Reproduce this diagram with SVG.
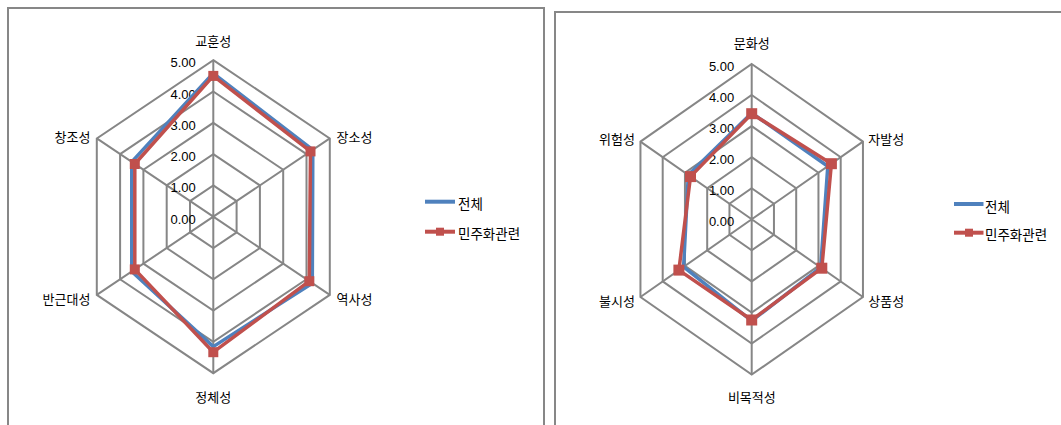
<svg xmlns="http://www.w3.org/2000/svg" width="1061" height="425" viewBox="0 0 1061 425">
<style>
.frame{fill:none;stroke:#878787;stroke-width:2}
.grid{fill:none;stroke:#868686;stroke-width:2;stroke-linejoin:miter}
.blue{fill:none;stroke:#4F81BD;stroke-width:3.5;stroke-linejoin:round}
.red{fill:none;stroke:#C0504D;stroke-width:3.5;stroke-linejoin:round}
.num{font-family:"Liberation Sans","Noto Sans CJK KR",sans-serif;font-size:13px;fill:#000;text-anchor:end}
.lbl{font-family:"Noto Sans CJK KR","Noto Sans",sans-serif;font-size:13px;fill:#000}
.leg{font-family:"Noto Sans CJK KR","Noto Sans",sans-serif;font-size:13.5px;fill:#000}
.mk{fill:#C0504D}
</style>
<defs>
<rect id="mL" x="-5" y="-5" width="10" height="10" class="mk"/>
<rect id="mR" x="-5.5" y="-5.5" width="11" height="11" class="mk"/>
</defs>
<rect x="0" y="0" width="1061" height="425" fill="#fff"/>

<g id="frames">
<rect class="frame" x="8" y="8" width="536" height="440"/>
<path class="frame" d="M555,440 V12 H1063"/>
</g>

<!-- LEFT CHART -->
<g id="left-grid">
<polygon class="grid" points="213.3,185.4 236.6,201.05 236.6,232.35 213.3,248 190,232.35 190,201.05"/>
<polygon class="grid" points="213.3,154.1 259.9,185.4 259.9,248 213.3,279.3 166.7,248 166.7,185.4"/>
<polygon class="grid" points="213.3,122.8 283.2,169.75 283.2,263.65 213.3,310.6 143.4,263.65 143.4,169.75"/>
<polygon class="grid" points="213.3,91.5 306.5,154.1 306.5,279.3 213.3,341.9 120.1,279.3 120.1,154.1"/>
<polygon class="grid" points="213.3,60.2 329.8,138.45 329.8,294.95 213.3,373.2 96.8,294.95 96.8,138.45"/>
<path class="grid" d="M213.3,216.7 V60.2 M213.3,216.7 V373.2 M213.3,216.7 L329.8,138.45 M213.3,216.7 L329.8,294.95 M213.3,216.7 L96.8,294.95 M213.3,216.7 L96.8,138.45"/>
</g>
<g id="left-scale">
<text class="num" x="195.8" y="67.2">5.00</text>
<text class="num" x="195.8" y="98.5">4.00</text>
<text class="num" x="195.8" y="129.8">3.00</text>
<text class="num" x="195.8" y="161.1">2.00</text>
<text class="num" x="195.8" y="192.4">1.00</text>
<text class="num" x="195.8" y="223.7">0.00</text>
</g>
<g id="left-labels">
<text class="lbl" x="213.3" y="46" text-anchor="middle">교훈성</text>
<text class="lbl" x="336.5" y="142">장소성</text>
<text class="lbl" x="336.5" y="304">역사성</text>
<text class="lbl" x="213.3" y="401.7" text-anchor="middle">정체성</text>
<text class="lbl" x="90.4" y="304" text-anchor="end">반근대성</text>
<text class="lbl" x="90.4" y="142" text-anchor="end">창조성</text>
</g>
<g id="left-series">
<polygon class="blue" points="213.3,73.3 312.8,149.9 312.3,283.2 213.3,346.6 131.75,271.5 131.75,161.9"/>
<polygon class="red" points="213.3,75.9 310.5,151.4 309.3,281.2 213.3,352.2 134.8,269.4 134.8,164"/>
<use href="#mL" x="213.3" y="75.9"/>
<use href="#mL" x="310.5" y="151.4"/>
<use href="#mL" x="309.3" y="281.2"/>
<use href="#mL" x="213.3" y="352.2"/>
<use href="#mL" x="134.8" y="269.4"/>
<use href="#mL" x="134.8" y="164"/>
</g>
<g id="left-legend">
<line x1="425" y1="201.7" x2="455" y2="201.7" stroke="#4F81BD" stroke-width="4"/>
<text class="leg" x="458" y="209.3">전체</text>
<line x1="425" y1="231.7" x2="455" y2="231.7" stroke="#C0504D" stroke-width="4"/>
<rect x="436" y="227.7" width="8" height="8" class="mk"/>
<text class="leg" x="458" y="239">민주화관련</text>
</g>

<!-- RIGHT CHART -->
<g id="right-grid">
<polygon class="grid" points="751.7,188.23 773.95,203.77 773.95,234.84 751.7,250.37 729.45,234.84 729.45,203.77"/>
<polygon class="grid" points="751.7,157.16 796.2,188.23 796.2,250.37 751.7,281.44 707.2,250.37 707.2,188.23"/>
<polygon class="grid" points="751.7,126.09 818.45,172.7 818.45,265.9 751.7,312.51 684.95,265.9 684.95,172.7"/>
<polygon class="grid" points="751.7,95.02 840.7,157.16 840.7,281.44 751.7,343.58 662.7,281.44 662.7,157.16"/>
<polygon class="grid" points="751.7,63.95 862.95,141.63 862.95,296.98 751.7,374.65 640.45,296.98 640.45,141.63"/>
<path class="grid" d="M751.7,219.3 V63.95 M751.7,219.3 V374.65 M751.7,219.3 L862.95,141.63 M751.7,219.3 L862.95,296.98 M751.7,219.3 L640.45,296.98 M751.7,219.3 L640.45,141.63"/>
</g>
<g id="right-scale">
<text class="num" x="734.2" y="71">5.00</text>
<text class="num" x="734.2" y="102">4.00</text>
<text class="num" x="734.2" y="133.1">3.00</text>
<text class="num" x="734.2" y="164.2">2.00</text>
<text class="num" x="734.2" y="195.2">1.00</text>
<text class="num" x="734.2" y="226.3">0.00</text>
</g>
<g id="right-labels">
<text class="lbl" x="751.8" y="48.3" text-anchor="middle">문화성</text>
<text class="lbl" x="868.3" y="144.3">자발성</text>
<text class="lbl" x="868.3" y="306">상품성</text>
<text class="lbl" x="751.8" y="401.7" text-anchor="middle">비목적성</text>
<text class="lbl" x="635" y="306" text-anchor="end">불시성</text>
<text class="lbl" x="635" y="144.3" text-anchor="end">위험성</text>
</g>
<g id="right-series">
<polygon class="blue" points="751.7,113 827.8,166.2 820.7,267.5 751.7,320.9 683.6,266.8 688.3,175"/>
<polygon class="red" points="751.7,113.7 831.4,163.7 821.8,268.2 751.7,320 678.9,270.1 690.5,176.6"/>
<use href="#mR" x="751.7" y="113.7"/>
<use href="#mR" x="831.4" y="163.7"/>
<use href="#mR" x="821.8" y="268.2"/>
<use href="#mR" x="751.7" y="320"/>
<use href="#mR" x="678.9" y="270.1"/>
<use href="#mR" x="690.5" y="176.6"/>
</g>
<g id="right-legend">
<line x1="954" y1="204" x2="983.5" y2="204" stroke="#4F81BD" stroke-width="4"/>
<text class="leg" x="985" y="212">전체</text>
<line x1="954" y1="232.7" x2="983.5" y2="232.7" stroke="#C0504D" stroke-width="4"/>
<rect x="965" y="228.7" width="8" height="8" class="mk"/>
<text class="leg" x="985" y="240">민주화관련</text>
</g>
</svg>
